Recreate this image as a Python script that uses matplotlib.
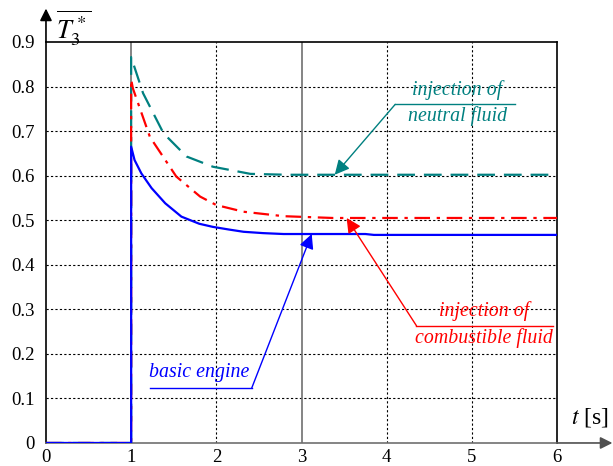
import matplotlib
matplotlib.use("Agg")
import matplotlib.pyplot as plt

plt.rcParams['font.family'] = ['Liberation Serif', 'DejaVu Serif']
plt.rcParams['mathtext.fontset'] = 'stix'

# values
t_basic = [0, 1, 1, 1.04, 1.12, 1.24, 1.4, 1.59, 1.8, 1.96, 2.15, 2.32, 2.55, 2.79, 3.2, 3.75, 3.85, 6]
T_basic = [0, 0, 0.665, 0.635, 0.605, 0.572, 0.538, 0.508, 0.492, 0.485, 0.479, 0.474, 0.471, 0.469,
           0.469, 0.469, 0.467, 0.467]

t_neutral = [0, 1, 1, 1.14, 1.38, 1.65, 1.96, 2.4, 2.83, 3.3, 6]
T_neutral = [0, 0, 0.866, 0.785, 0.695, 0.643, 0.620, 0.604, 0.602, 0.602, 0.602]

t_comb = [0, 1, 1, 1.02, 1.22, 1.53, 1.81, 2.0, 2.32, 2.79, 3.37, 6]
T_comb = [0, 0, 0.816, 0.796, 0.687, 0.598, 0.553, 0.534, 0.519, 0.509, 0.505, 0.505]

x_ticks = [0, 1, 2, 3, 4, 5, 6]
y_ticks = [0, 0.1, 0.2, 0.3, 0.4, 0.5, 0.6, 0.7, 0.8, 0.9]
x_solid = [1, 3]

blue = '#0000ff'
red = '#ff0000'
teal = '#008080'

fig = plt.figure(figsize=(6.13, 4.66), dpi=100)
ax = fig.add_axes([0.075, 0.0494, 0.8337, 0.8605])
ax.set_xlim(0, 6)
ax.set_ylim(0, 0.9)

# grid
for y in y_ticks[1:-1]:
    ax.axhline(y, color='black', lw=0.8, ls=(0, (2, 2)), zorder=1)
for x in x_ticks[1:-1]:
    if x in x_solid:
        ax.axvline(x, color='#707070', lw=1.2, zorder=1)
    else:
        ax.axvline(x, color='black', lw=0.8, ls=(0, (2, 2)), zorder=1)

ax.plot(t_neutral, T_neutral, color=teal, lw=1.6, ls=(0, (8, 4)), zorder=3)
ax.plot(t_comb, T_comb, color=red, lw=1.6, ls=(0, (7, 3, 1.5, 3)), zorder=3)
ax.plot(t_basic, T_basic, color=blue, lw=1.6, zorder=4)

ax.set_xticks(x_ticks)
ax.set_yticks(y_ticks)
ax.set_xticklabels([str(v) for v in x_ticks])
ax.set_yticklabels(['0'] + [f'{v:.1f}' for v in y_ticks[1:]])
ax.tick_params(length=0, labelsize=13.5, pad=8)
ax.tick_params(axis='x', pad=4)

for s in ['left', 'top', 'right']:
    ax.spines[s].set_color('black')
    ax.spines[s].set_linewidth(1.2)
ax.spines['bottom'].set_color('#707070')
ax.spines['bottom'].set_linewidth(1.2)

# axis arrows
ax.annotate('', xy=(0, 0.975), xytext=(0, 0.9), annotation_clip=False,
            arrowprops=dict(arrowstyle='-|>', color='black', lw=1.2, mutation_scale=18,
                            shrinkA=0, shrinkB=0))
ax.annotate('', xy=(6.65, 0), xytext=(6, 0), annotation_clip=False,
            arrowprops=dict(arrowstyle='-|>', color='#505050', lw=1.2, mutation_scale=18,
                            shrinkA=0, shrinkB=0))

ax.text(0.33, 0.93, r'$\overline{T_3^*}$', fontsize=19, ha='center', va='center', clip_on=False)
ax.text(6.39, 0.058, r'$t$ [s]', fontsize=17, ha='center', va='center', clip_on=False)

# annotations
def label(lines, xc, ys, ul_x, ul_y, tip, color):
    for txt, y in zip(lines, ys):
        ax.text(xc, y, txt, color=color, fontsize=14.3, style='italic',
                ha='center', va='center', zorder=5)
    ax.plot(ul_x, [ul_y, ul_y], color=color, lw=1, zorder=5)
    ax.annotate('', xy=tip, xytext=(ul_x[0] if tip[0] < ul_x[0] else ul_x[1], ul_y),
                arrowprops=dict(arrowstyle='-|>', color=color, lw=1, mutation_scale=22,
                                shrinkA=0, shrinkB=0), zorder=5)

label(['injection of', 'neutral fluid'], 4.83, [0.792, 0.733], [4.10, 5.51], 0.760,
      (3.39, 0.602), teal)
label(['injection of', 'combustible fluid'], 5.14, [0.297, 0.236], [4.35, 5.95], 0.263,
      (3.53, 0.505), red)
label(['basic engine'], 1.80, [0.159], [1.22, 2.415], 0.123, (3.12, 0.469), blue)

fig.savefig('out.png', dpi=100)
